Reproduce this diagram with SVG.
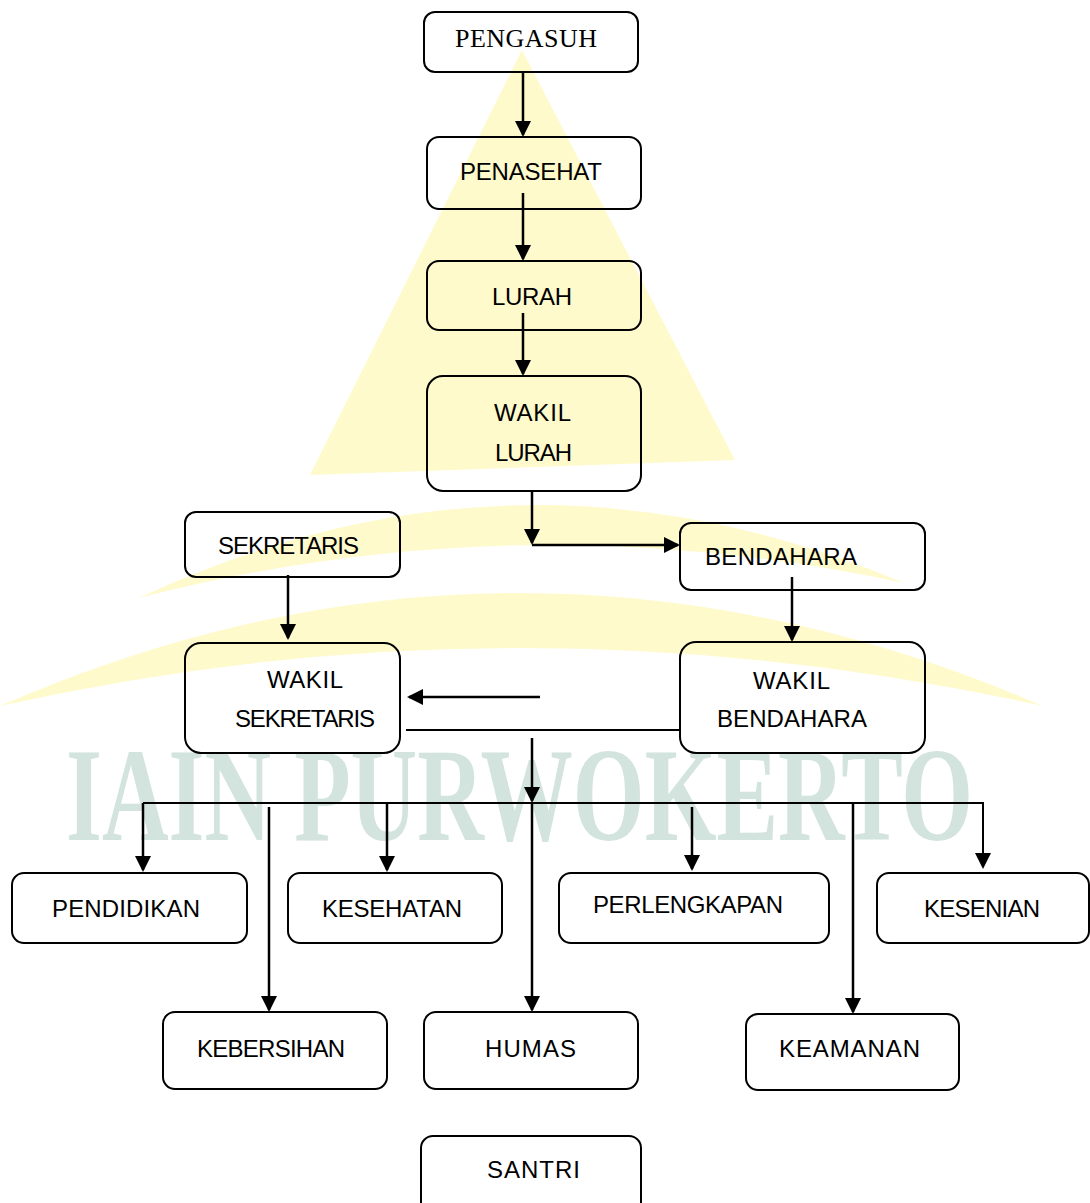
<svg xmlns="http://www.w3.org/2000/svg" width="1090" height="1203" viewBox="0 0 1090 1203">
<defs>
<style>
.box{fill:none;stroke:#000;stroke-width:2}
.lbl{font-family:'Liberation Sans',Arial,sans-serif;font-size:24px;fill:#000}
.ser{font-family:'Liberation Serif','Times New Roman',serif;font-size:26px;fill:#000}
.c{fill:none;stroke:#000;stroke-width:2.5}
.bus{fill:none;stroke:#000;stroke-width:2}
.wm{fill:#fff5a0;opacity:.55}
</style>
<marker id="ah" markerUnits="userSpaceOnUse" viewBox="0 0 16 16" markerWidth="16" markerHeight="16" refX="14" refY="8" orient="auto"><path d="M0,0 L16,8 L0,16 z" fill="#000"/></marker>
</defs>
<rect width="1090" height="1203" fill="#fff"/>
<g id="watermark">
<path class="wm" d="M522,50 L310,475 L735,460 Z"/>
<path class="wm" d="M139,598 Q518,420 904,583 Q518,500 139,598 Z"/>
<path class="wm" d="M0,706 Q518,480 1043,706 Q518,590 0,706 Z"/>
<text transform="translate(66,840) scale(0.6825,1)" x="0" y="0" textLength="1329" lengthAdjust="spacingAndGlyphs" font-family="'Liberation Serif','Times New Roman',serif" font-size="134" font-weight="bold" fill="#d2e4dd">IAIN PURWOKERTO</text>
</g>
<g id="connectors">
<path class="c" d="M523,72 V135" marker-end="url(#ah)"/>
<path class="c" d="M523,193 V259" marker-end="url(#ah)"/>
<path class="c" d="M523,313 V374" marker-end="url(#ah)"/>
<path class="c" d="M532,491 V543" marker-end="url(#ah)"/>
<path class="c" d="M532,545 H678" stroke-width="3" marker-end="url(#ah)"/>
<path class="c" d="M288,575 V638" marker-end="url(#ah)"/>
<path class="c" d="M792,577 V640" marker-end="url(#ah)"/>
<path class="c" d="M540,697 H409" marker-end="url(#ah)"/>
<path class="bus" d="M406,730 H680"/>
<path class="c" d="M532,738 V801" marker-end="url(#ah)"/>
<path class="bus" d="M143,803 H983 V867" marker-end="url(#ah)"/>
<path class="c" d="M143,803 V870" marker-end="url(#ah)"/>
<path class="c" d="M269,807 V1010" marker-end="url(#ah)"/>
<path class="c" d="M387,803 V870" marker-end="url(#ah)"/>
<path class="c" d="M532,803 V1010" marker-end="url(#ah)"/>
<path class="c" d="M692,807 V869" marker-end="url(#ah)"/>
<path class="c" d="M853,803 V1012" marker-end="url(#ah)"/>
</g>
<g id="n-pengasuh"><rect class="box" x="424" y="12" width="214" height="60" rx="11"/><text class="ser" x="455" y="47" textLength="142">PENGASUH</text></g>
<g id="n-penasehat"><rect class="box" x="427" y="137" width="214" height="72" rx="12"/><text class="lbl" x="460" y="180" textLength="142">PENASEHAT</text></g>
<g id="n-lurah"><rect class="box" x="427" y="261" width="214" height="69" rx="12"/><text class="lbl" x="492" y="305" textLength="80">LURAH</text></g>
<g id="n-wakil-lurah"><rect class="box" x="427" y="376" width="214" height="115" rx="16"/><text class="lbl" x="494" y="421" textLength="77">WAKIL</text><text class="lbl" x="495" y="461" textLength="77">LURAH</text></g>
<g id="n-sekretaris"><rect class="box" x="185" y="512" width="215" height="65" rx="11"/><text class="lbl" x="218" y="554" textLength="141">SEKRETARIS</text></g>
<g id="n-bendahara"><rect class="box" x="680" y="523" width="245" height="67" rx="11"/><text class="lbl" x="705" y="565" textLength="152">BENDAHARA</text></g>
<g id="n-wakil-sekretaris"><rect class="box" x="185" y="643" width="215" height="110" rx="16"/><text class="lbl" x="267" y="688" textLength="76">WAKIL</text><text class="lbl" x="235" y="727" textLength="140">SEKRETARIS</text></g>
<g id="n-wakil-bendahara"><rect class="box" x="680" y="642" width="245" height="111" rx="16"/><text class="lbl" x="753" y="689" textLength="77">WAKIL</text><text class="lbl" x="717" y="727" textLength="150">BENDAHARA</text></g>
<g id="n-pendidikan"><rect class="box" x="12" y="873" width="235" height="70" rx="12"/><text class="lbl" x="52" y="917" textLength="148">PENDIDIKAN</text></g>
<g id="n-kesehatan"><rect class="box" x="288" y="873" width="214" height="70" rx="12"/><text class="lbl" x="322" y="917" textLength="140">KESEHATAN</text></g>
<g id="n-perlengkapan"><rect class="box" x="559" y="873" width="270" height="70" rx="12"/><text class="lbl" x="593" y="913" textLength="190">PERLENGKAPAN</text></g>
<g id="n-kesenian"><rect class="box" x="877" y="873" width="212" height="70" rx="12"/><text class="lbl" x="924" y="917" textLength="116">KESENIAN</text></g>
<g id="n-kebersihan"><rect class="box" x="163" y="1012" width="224" height="77" rx="12"/><text class="lbl" x="197" y="1057" textLength="148">KEBERSIHAN</text></g>
<g id="n-humas"><rect class="box" x="424" y="1012" width="214" height="77" rx="12"/><text class="lbl" x="485" y="1057" textLength="91">HUMAS</text></g>
<g id="n-keamanan"><rect class="box" x="746" y="1014" width="213" height="76" rx="12"/><text class="lbl" x="779" y="1057" textLength="141">KEAMANAN</text></g>
<g id="n-santri"><rect class="box" x="421" y="1136" width="220" height="80" rx="12"/><text class="lbl" x="487" y="1178" textLength="93">SANTRI</text></g>
</svg>
